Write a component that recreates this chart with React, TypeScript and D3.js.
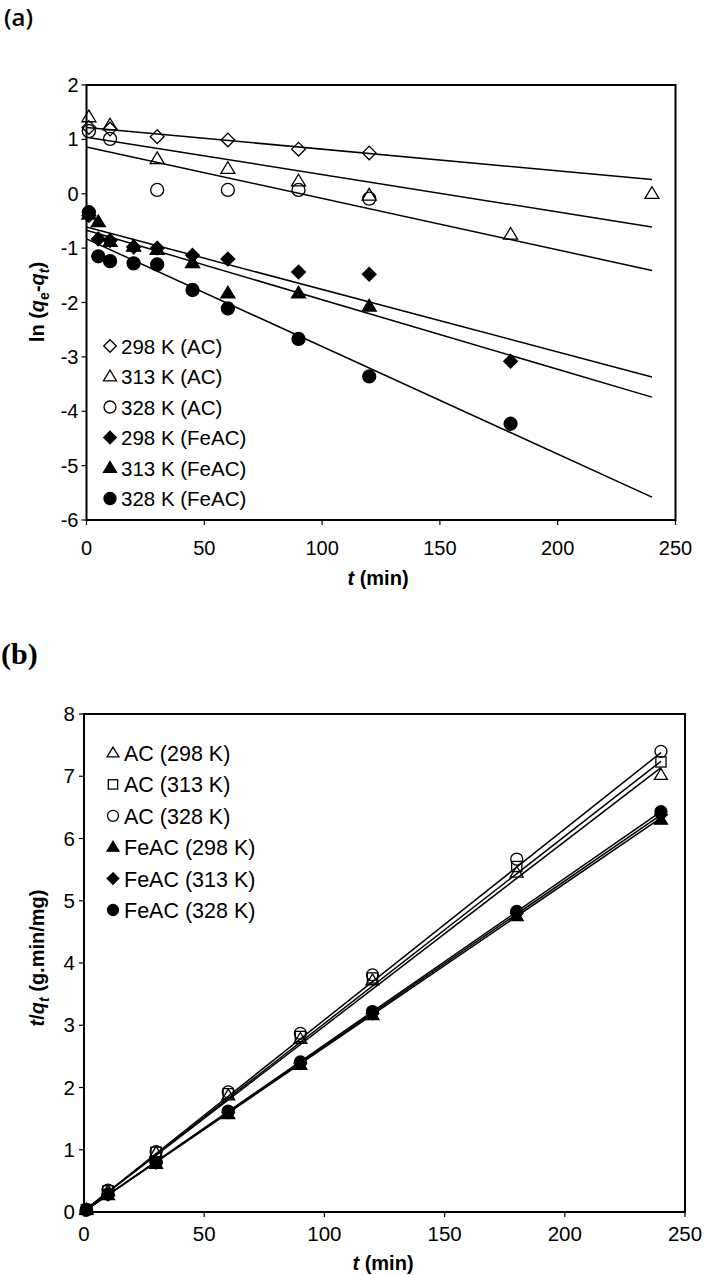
import React from "react";
import * as d3 from "d3";

// ---------- Panel (a) data: ln(qe - qt) vs t ----------
const tAC = [1, 10, 30, 60, 90, 120, 180, 240];
const tAC328 = [1, 10, 30, 60, 90, 120];
const tAC298 = [1, 10, 30, 60, 90, 120];
const ac298 = [1.22, 1.19, 1.05, 0.99, 0.82, 0.75];
const ac313 = [1.41, 1.26, 0.64, 0.46, 0.23, -0.03, -0.75, 0.0];
const ac328 = [1.15, 1.01, 0.07, 0.07, 0.07, -0.09];

const tFe = [1, 5, 10, 20, 30, 45, 60, 90, 120, 180];
const tFe313 = [1, 5, 10, 20, 30, 45, 60, 90, 120];
const fe298 = [-0.4, -0.83, -0.86, -0.98, -1.0, -1.13, -1.2, -1.44, -1.48, -3.08];
const fe313 = [-0.38, -0.52, -0.88, -0.97, -1.03, -1.27, -1.83, -1.83, -2.07];
const fe328 = [-0.34, -1.15, -1.24, -1.28, -1.3, -1.77, -2.11, -2.67, -3.36, -4.23];

// fitted lines: [value at t=0, value at t=240]
const fitA = [
  [1.22, 0.26],
  [1.04, -0.61],
  [0.86, -1.41],
  [-0.61, -3.37],
  [-0.67, -3.74],
  [-0.83, -5.58],
];

const legendA = ["298 K (AC)", "313 K (AC)", "328 K (AC)", "298 K (FeAC)", "313 K (FeAC)", "328 K (FeAC)"];
const shapesA = ["diamond", "triangle", "circle", "diamond", "triangle", "circle"];
const filledA = [false, false, false, true, true, true];

// ---------- Panel (b) data: t/qt vs t ----------
const tB = [1, 10, 30, 60, 90, 120, 180, 240];
const bAC298 = [0.04, 0.33, 0.95, 1.87, 2.78, 3.72, 5.45, 7.02];
const bAC313 = [0.04, 0.34, 0.96, 1.9, 2.82, 3.76, 5.55, 7.23];
const bAC328 = [0.04, 0.35, 0.97, 1.93, 2.87, 3.81, 5.67, 7.4];
const bFe298 = [0.03, 0.27, 0.77, 1.57, 2.36, 3.16, 4.75, 6.3];
const bFe313 = [0.03, 0.28, 0.79, 1.6, 2.39, 3.19, 4.8, 6.38];
const bFe328 = [0.03, 0.29, 0.8, 1.62, 2.41, 3.22, 4.83, 6.43];
const fitB = [
  [0.02, 7.14],
  [0.02, 7.24],
  [0.02, 7.38],
  [0.01, 6.33],
  [0.01, 6.38],
  [0.01, 6.43],
];
const legendB = ["AC (298 K)", "AC (313 K)", "AC (328 K)", "FeAC (298 K)", "FeAC (313 K)", "FeAC (328 K)"];
const shapesB = ["triangle", "square", "circle", "triangle", "diamond", "circle"];
const filledB = [false, false, false, true, true, true];

const xTicks = [0, 50, 100, 150, 200, 250];
const yTicksA = [2, 1, 0, -1, -2, -3, -4, -5, -6];
const yTicksB = [0, 1, 2, 3, 4, 5, 6, 7, 8];

const FONT = "'Liberation Sans', Arial, sans-serif";

function Marker({ shape, x, y, r, filled }: any) {
  const stroke = "#000";
  const fill = filled ? "#000" : "none";
  const sw = 1.3;
  if (shape === "circle") return <circle cx={x} cy={y} r={r} fill={fill} stroke={stroke} strokeWidth={sw} />;
  if (shape === "square")
    return <rect x={x - r * 0.85} y={y - r * 0.85} width={r * 1.7} height={r * 1.7} fill={fill} stroke={stroke} strokeWidth={sw} />;
  if (shape === "diamond") {
    const d = `M${x},${y - r * 1.05}L${x + r * 1.05},${y}L${x},${y + r * 1.05}L${x - r * 1.05},${y}Z`;
    return <path d={d} fill={fill} stroke={stroke} strokeWidth={sw} />;
  }
  // triangle
  const h = r * 1.8;
  const d = `M${x},${y - h * 0.6}L${x + r * 1.08},${y + h * 0.4}L${x - r * 1.08},${y + h * 0.4}Z`;
  return <path d={d} fill={fill} stroke={stroke} strokeWidth={sw} />;
}

export default function App() {
  // Panel (a) scales
  const xA = d3.scaleLinear().domain([0, 250]).range([86.5, 675.5]);
  const yA = d3.scaleLinear().domain([-6, 2]).range([520, 85]);
  // Panel (b) scales
  const xB = d3.scaleLinear().domain([0, 250]).range([84, 685]);
  const yB = d3.scaleLinear().domain([0, 8]).range([1212, 714]);

  const seriesA = [
    { t: tAC298, v: ac298 },
    { t: tAC, v: ac313 },
    { t: tAC328, v: ac328 },
    { t: tFe, v: fe298 },
    { t: tFe313, v: fe313 },
    { t: tFe, v: fe328 },
  ];
  const seriesB = [bAC298, bAC313, bAC328, bFe298, bFe313, bFe328];

  const lineA = d3.line<number[]>().x((d) => xA(d[0])).y((d) => yA(d[1]));
  const lineB = d3.line<number[]>().x((d) => xB(d[0])).y((d) => yB(d[1]));

  return (
    <svg width={704} height={1275} style={{ position: "absolute", left: 0, top: 0, background: "#fff" }} fontFamily={FONT}>
      <rect x={0} y={0} width={704} height={1275} fill="#fff" />
      {/* ===== Panel (a) ===== */}
      <text x={4} y={26} fontFamily="'Open Sans', 'DejaVu Sans', sans-serif" fontSize={24} fontWeight={600}>(a)</text>

      {/* fit lines */}
      {fitA.map((f, i) => (
        <path key={"fa" + i} d={lineA([[0, f[0]], [240, f[1]]]) as string} stroke="#000" strokeWidth={1.5} fill="none" />
      ))}
      {/* markers */}
      {seriesA.map((s, i) =>
        s.t.map((t, j) => (
          <Marker key={`ma${i}-${j}`} shape={shapesA[i]} x={xA(t)} y={yA(s.v[j])} r={6.5} filled={filledA[i]} />
        ))
      )}
      {/* frame */}
      <rect x={xA(0)} y={yA(2)} width={xA(250) - xA(0)} height={yA(-6) - yA(2)} fill="none" stroke="#000" strokeWidth={2} />
      {yTicksA.map((v) => (
        <g key={"yta" + v}>
          <line x1={xA(0) - 5} x2={xA(0)} y1={yA(v)} y2={yA(v)} stroke="#000" strokeWidth={1.2} />
          <text x={xA(0) - 8} y={yA(v) + 7} textAnchor="end" fontSize={20}>{v}</text>
        </g>
      ))}
      {xTicks.map((v) => (
        <g key={"xta" + v}>
          <line x1={xA(v)} x2={xA(v)} y1={yA(-6)} y2={yA(-6) + 5} stroke="#000" strokeWidth={1.2} />
          <text x={xA(v)} y={yA(-6) + 35} textAnchor="middle" fontSize={20}>{v}</text>
        </g>
      ))}
      <text x={378} y={585} textAnchor="middle" fontSize={20} fontWeight="bold">
        <tspan fontStyle="italic">t</tspan> (min)
      </text>
      <text transform={`translate(44,${302}) rotate(-90)`} textAnchor="middle" fontSize={20} fontWeight="bold">
        ln (<tspan fontStyle="italic">q</tspan><tspan fontSize={14} dy={5}>e</tspan><tspan dy={-5}>-</tspan><tspan fontStyle="italic">q</tspan><tspan fontSize={14} fontStyle="italic" dy={5}>t</tspan><tspan dy={-5}>)</tspan>
      </text>
      {/* legend (a) */}
      {legendA.map((lab, i) => (
        <g key={"la" + i}>
          <Marker shape={shapesA[i]} x={110} y={346 + i * 30.5} r={6} filled={filledA[i]} />
          <text x={121} y={346 + i * 30.5 + 7.5} fontSize={20.5}>{lab}</text>
        </g>
      ))}

      {/* ===== Panel (b) ===== */}
      <text x={1} y={664} fontFamily="'Liberation Serif', 'Times New Roman', serif" fontSize={30} fontWeight="bold">(b)</text>
      {fitB.map((f, i) => (
        <path key={"fb" + i} d={lineB([[0, f[0]], [240, f[1]]]) as string} stroke="#000" strokeWidth={1.5} fill="none" />
      ))}
      {seriesB.map((s, i) =>
        tB.map((t, j) => (
          <Marker key={`mb${i}-${j}`} shape={shapesB[i]} x={xB(t)} y={yB(s[j])} r={6} filled={filledB[i]} />
        ))
      )}
      <rect x={xB(0)} y={yB(8)} width={xB(250) - xB(0)} height={yB(0) - yB(8)} fill="none" stroke="#000" strokeWidth={2} />
      {yTicksB.map((v) => (
        <g key={"ytb" + v}>
          <line x1={xB(0) - 5} x2={xB(0)} y1={yB(v)} y2={yB(v)} stroke="#000" strokeWidth={1.2} />
          <text x={xB(0) - 9} y={yB(v) + 7} textAnchor="end" fontSize={20.5}>{v}</text>
        </g>
      ))}
      {xTicks.map((v) => (
        <g key={"xtb" + v}>
          <line x1={xB(v)} x2={xB(v)} y1={yB(0)} y2={yB(0) + 5} stroke="#000" strokeWidth={1.2} />
          <text x={xB(v)} y={yB(0) + 29} textAnchor="middle" fontSize={20.5}>{v}</text>
        </g>
      ))}
      <text x={383} y={1270} textAnchor="middle" fontSize={20} fontWeight="bold">
        <tspan fontStyle="italic">t</tspan> (min)
      </text>
      <text transform={`translate(44,${958}) rotate(-90)`} textAnchor="middle" fontSize={20} fontWeight="bold">
        <tspan fontStyle="italic">t</tspan>/<tspan fontStyle="italic">q</tspan><tspan fontSize={14} fontStyle="italic" dy={5}>t</tspan><tspan dy={-5}> (g.min/mg)</tspan>
      </text>
      {legendB.map((lab, i) => (
        <g key={"lb" + i}>
          <Marker shape={shapesB[i]} x={113} y={753 + i * 31.4} r={5.5} filled={filledB[i]} />
          <text x={124} y={753 + i * 31.4 + 8} fontSize={21.5}>{lab}</text>
        </g>
      ))}
    </svg>
  );
}
